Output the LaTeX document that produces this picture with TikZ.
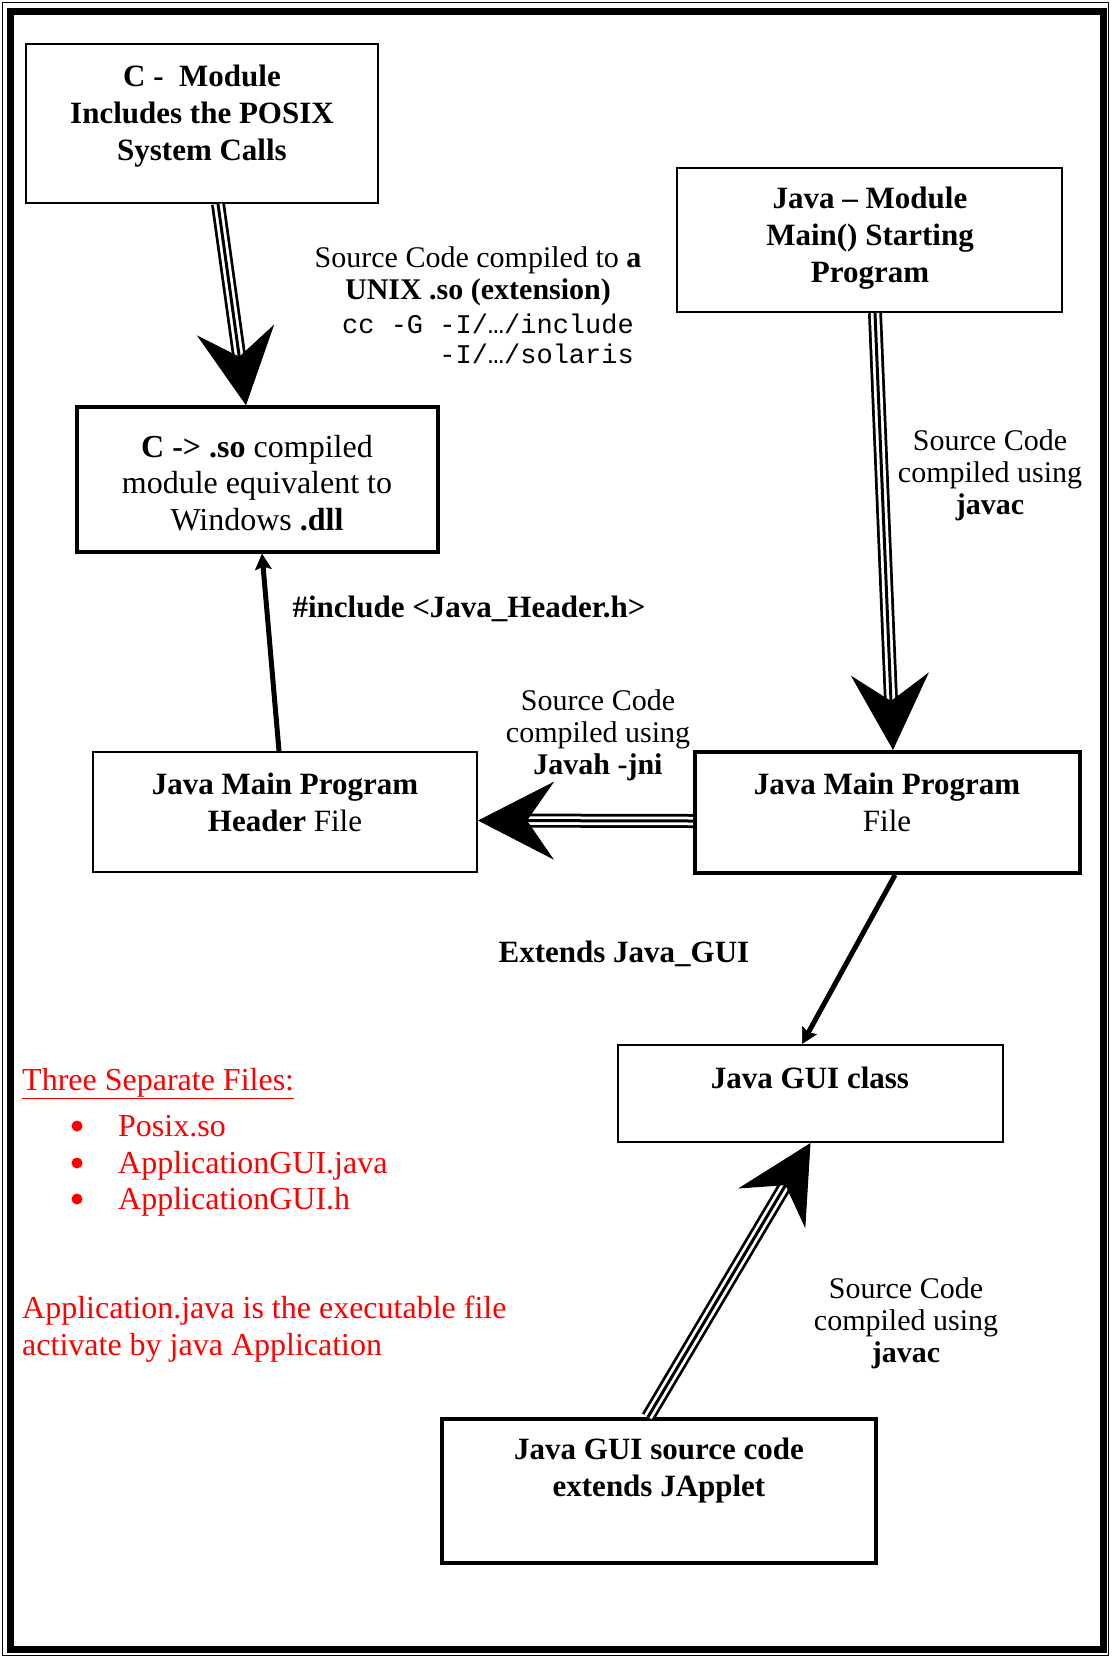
\documentclass[tikz,border=0pt]{standalone}
\usepackage{fontspec}
\setmainfont{Liberation Serif}
\setmonofont{Liberation Mono}
\usetikzlibrary{arrows.meta}
\begin{document}
\begin{tikzpicture}[x=1pt,y=-1pt,
  thinbox/.style={draw, line width=2pt, inner sep=0pt},
  thickbox/.style={draw, line width=4pt, inner sep=0pt},
  boxtext/.style={align=center, font=\fontsize{31}{37}\selectfont\bfseries, inner sep=0pt},
  lbl/.style={align=center, font=\fontsize{30}{32}\selectfont, inner sep=0pt},
  monolbl/.style={align=right, font=\fontsize{27}{30}\selectfont\ttfamily, inner sep=0pt},
  redtxt/.style={text=red, font=\fontsize{32}{38}\selectfont, inner sep=0pt},
  reddot/.style={circle, fill=red, minimum size=11pt, inner sep=0pt},
  tri/.style={line width=1pt, -{Stealth[length=76pt,width=78pt,inset=27pt]},
    preaction={draw,-,line width=14pt,shorten >=44pt},
    preaction={draw,-,white,line width=8.5pt,shorten >=44pt},
    preaction={draw,-,line width=3pt,shorten >=44pt}},
  thinarrow/.style={line width=5pt, -{Stealth[length=16pt,width=17pt,inset=3pt,line width=0.5pt]}}
]
\useasboundingbox (0,0) rectangle (1111,1657);
\fill[white] (0,0) rectangle (1111,1657);
% frame
\draw[line width=1.5pt] (2.5,2.5) rectangle (1108.5,1655.5);
\draw[line width=7pt] (10,11) rectangle (1103.5,1649.5);

% boxes
\node[thinbox, minimum width=352pt, minimum height=159pt] (cmod) at (202,123.5) {};
\node[boxtext] (cmodt) at (202,116) {C -\ \ Module\\Includes the POSIX\\System Calls};

\node[thinbox, minimum width=385pt, minimum height=144pt] (jmod) at (869.5,240) {};
\node[boxtext] (jmodt) at (870,238) {Java – Module\\Main() Starting\\Program};

\node[thickbox, line width=3.5pt, minimum width=361pt, minimum height=145pt] (cso) at (257.5,479.5) {};
\node[lbl, font=\fontsize{32}{36.5}\selectfont] (csot) at (257,483) {\textbf{C -> .so} compiled\\module equivalent to\\Windows \textbf{.dll}};

\node[thinbox, minimum width=384pt, minimum height=120pt] (hdr) at (285,812) {};
\node[boxtext] (hdrt) at (285,802) {Java Main Program\\Header {\mdseries File}};

\node[thickbox, minimum width=385pt, minimum height=121pt] (jmain) at (887.5,812.5) {};
\node[boxtext] (jmaint) at (887,802) {Java Main Program\\{\mdseries File}};

\node[thinbox, minimum width=385pt, minimum height=97pt] (gui) at (810.5,1093.5) {};
\node[boxtext] (guit) at (810,1078) {Java GUI class};

\node[thickbox, minimum width=434pt, minimum height=144pt] (src) at (659,1491) {};
\node[boxtext] (srct) at (659,1471) {Java GUI source code\\extends JApplet};

% labels
\node[lbl] (l1) at (478,276) {Source Code compiled to \textbf{a}\\\textbf{UNIX .so (extension)}};
\node[monolbl, anchor=east] (l1m) at (634,339) {cc -G -I/…/include\\-I/…/solaris};
\node[lbl] (l2) at (990,475) {Source Code\\compiled using\\\textbf{javac}};
\node[lbl] (l3) at (598,735) {Source Code\\compiled using\\\textbf{Javah -jni}};
\node[boxtext] (l4) at (624,954) {Extends Java\_GUI};
\node[boxtext] (l5) at (469,609) {\#include <Java\_Header.h>};
\node[lbl] (l6) at (906,1323) {Source Code\\compiled using\\\textbf{javac}};

% red notes
\node[redtxt, anchor=base west] (r0) at (22,1090) {\underline{Three Separate Files:}};
\node[reddot] (b1) at (77,1126) {};
\node[reddot] (b2) at (77,1163) {};
\node[reddot] (b3) at (77,1199) {};
\node[redtxt, anchor=base west] (r1) at (118,1136) {Posix.so};
\node[redtxt, anchor=base west] (r2) at (118,1173) {ApplicationGUI.java};
\node[redtxt, anchor=base west] (r3) at (118,1209) {ApplicationGUI.h};
\node[redtxt, anchor=base west] (r4) at (22,1318) {Application.java is the executable file};
\node[redtxt, anchor=base west] (r5) at (22,1355) {activate by java Application};

% connectors
\draw[tri] ([xshift=16pt]cmod.south) -- ([xshift=-11.5pt]cso.north);
\draw[tri] ([xshift=5.5pt]jmod.south) -- ([xshift=5.5pt]jmain.north);
\draw[tri] ([yshift=-8.5pt]jmain.west) -- ([yshift=-8.5pt]hdr.east);
\draw[tri] ([xshift=-11pt]src.north) -- (gui.south);
\draw[thinarrow] ([xshift=-6pt]hdr.north) -- ([xshift=4.5pt]cso.south);
\draw[thinarrow] ([xshift=7.5pt]jmain.south) -- ([xshift=-8.5pt]gui.north);
\end{tikzpicture}
\end{document}
